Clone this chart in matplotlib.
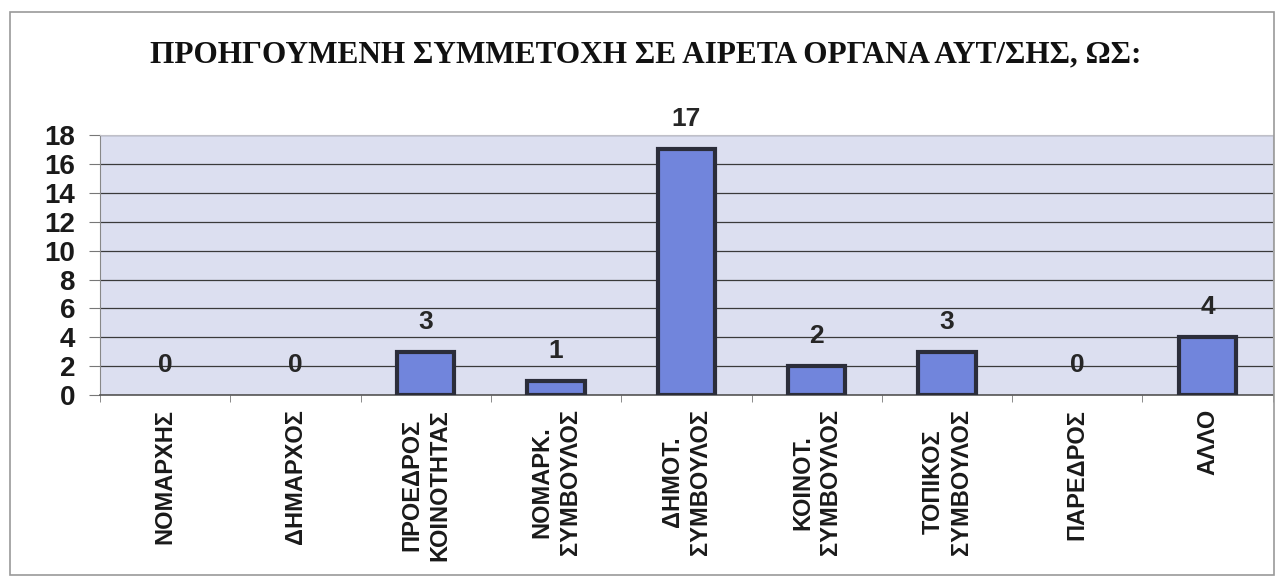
import matplotlib.pyplot as plt
from matplotlib.patches import Rectangle
import numpy as np

# chart data
categories = ["ΝΟΜΑΡΧΗΣ", "ΔΗΜΑΡΧΟΣ", "ΠΡΟΕΔΡΟΣ\nΚΟΙΝΟΤΗΤΑΣ", "ΝΟΜΑΡΚ.\nΣΥΜΒΟΥΛΟΣ",
              "ΔΗΜΟΤ.\nΣΥΜΒΟΥΛΟΣ", "ΚΟΙΝΟΤ.\nΣΥΜΒΟΥΛΟΣ", "ΤΟΠΙΚΟΣ\nΣΥΜΒΟΥΛΟΣ",
              "ΠΑΡΕΔΡΟΣ", "ΑΛΛΟ"]
counts = [0, 0, 3, 1, 17, 2, 3, 0, 4]
y_ticks = [0, 2, 4, 6, 8, 10, 12, 14, 16, 18]
title = "ΠΡΟΗΓΟΥΜΕΝΗ ΣΥΜΜΕΤΟΧΗ ΣΕ ΑΙΡΕΤΑ ΟΡΓΑΝΑ ΑΥΤ/ΣΗΣ, ΩΣ:"

fig = plt.figure(figsize=(12.83, 5.82), dpi=100)
fig.patch.set_facecolor("white")

# outer chart frame
fig.patches.append(Rectangle((0.008, 0.012), 0.985, 0.968, transform=fig.transFigure,
                             fill=False, edgecolor="#9a9a9a", linewidth=1.2))

ax = fig.add_axes([0.078, 0.321, 0.914, 0.447])
ax.set_facecolor("#dcdff0")

x = np.arange(len(categories))
# no outline on empty bars (nothing is drawn there in the original)
edge_w = [3 if v > 0 else 0 for v in counts]
ax.bar(x, counts, width=0.44, color="#7185dc", edgecolor="#2b2d3a", linewidth=edge_w, zorder=3)

for xi, v in zip(x, counts):
    ax.annotate(str(v), (xi, v), xytext=(0, 13), textcoords="offset points",
                ha="center", va="bottom", fontsize=19, fontweight="bold", color="#262626",
                fontfamily="Liberation Sans", zorder=4)

ax.set_xlim(-0.5, len(categories) - 0.5)
ax.set_ylim(0, 18)
ax.set_yticks(y_ticks)
ax.set_yticklabels([str(t) for t in y_ticks], fontsize=20, fontweight="bold",
                   fontfamily="Liberation Sans", color="#1a1a1a")
ax.yaxis.grid(True, color="#3a3a3a", linewidth=0.9, zorder=1)
ax.set_axisbelow(True)

ax.set_xticks(x)
ax.set_xticklabels(categories, rotation=90, ha="center", va="top", multialignment="center",
                   fontsize=17, fontweight="bold", fontfamily="Liberation Sans",
                   linespacing=1.3, color="#1a1a1a")
ax.tick_params(axis="x", which="major", length=0, pad=10)
ax.set_xticks(np.arange(-0.5, len(categories), 1.0), minor=True)
ax.tick_params(axis="x", which="minor", length=5, color="#777777")
ax.tick_params(axis="y", length=8, color="#777777", pad=10)

for side in ["top", "right"]:
    ax.spines[side].set_color("#c0c0c8")
ax.spines["left"].set_color("#888888")
ax.spines["bottom"].set_color("#555555")
ax.spines["bottom"].set_linewidth(1.2)

fig.text(0.503, 0.905, title, ha="center", va="center", fontsize=22.5, fontweight="bold",
         fontfamily="Liberation Serif", color="#111111")

fig.savefig("out.png", dpi=100)
